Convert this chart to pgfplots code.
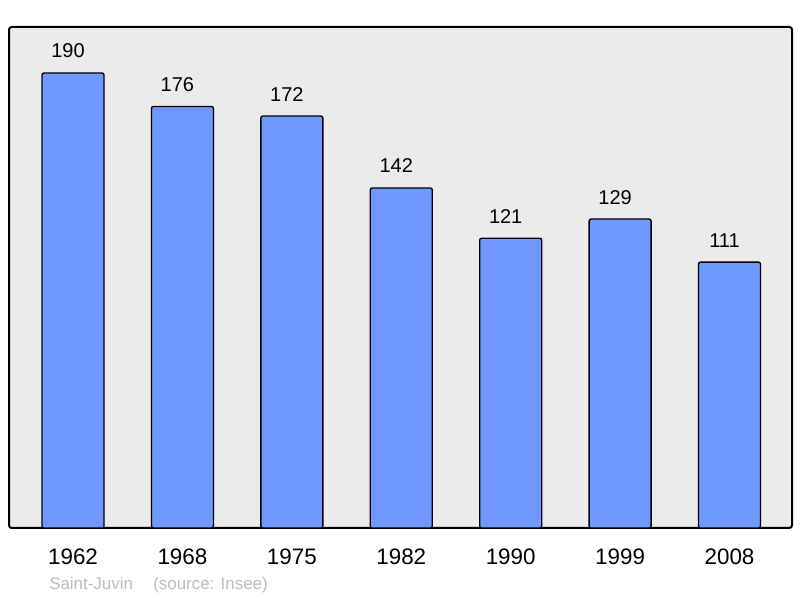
\documentclass[border=0pt]{standalone}
\usepackage{pgfplots}
\pgfplotsset{compat=1.18}
\usepackage{fontspec}
\setmainfont{Liberation Sans}
\definecolor{barfill}{HTML}{7099FF}
\definecolor{bgc}{HTML}{EBEBEB}
\definecolor{srcgrey}{HTML}{BDBDBD}
\begin{document}
\begin{tikzpicture}
\path[use as bounding box] (0pt,0pt) rectangle (600pt,448.5pt);
\begin{axis}[
  at={(6.75pt,52.5pt)}, anchor=south west,
  width=587.25pt, height=375.75pt, scale only axis,
  xmin=-0.585, xmax=6.571, ymin=0, ymax=209.2,
  /pgf/number format/assume math mode=true,
  axis background/.style={fill=bgc},
  axis line style={line width=1.5pt, rounded corners=2pt},
  ytick=\empty,
  xtick=data,
  xticklabels={1962,1968,1975,1982,1990,1999,2008},
  major tick length=0pt,
  xticklabel style={font=\fontsize{16.8pt}{19pt}\selectfont, anchor=base, yshift=-27.75pt},
  ybar, bar width=46.5pt, bar shift=0pt,
  nodes near coords,
  nodes near coords style={font=\fontsize{15pt}{18pt}\selectfont, anchor=base, yshift=11.25pt, xshift=-3.75pt, black},
  clip=false,
]
\addplot[fill=barfill, draw=black, line width=1pt, rounded corners=1.5pt] coordinates {
 (0,190) (1,176) (2,172) (3,142) (4,121) (5,129) (6,111)
};
\end{axis}
\node[anchor=base west, text=srcgrey, font=\fontsize{12.7pt}{15pt}\selectfont, inner sep=0pt] at (36.75pt,6pt) {Saint-Juvin};
\node[anchor=base west, text=srcgrey, font=\fontsize{12.7pt}{15pt}\selectfont, inner sep=0pt] at (114.75pt,6pt) {(source: Insee)};
\end{tikzpicture}
\end{document}
